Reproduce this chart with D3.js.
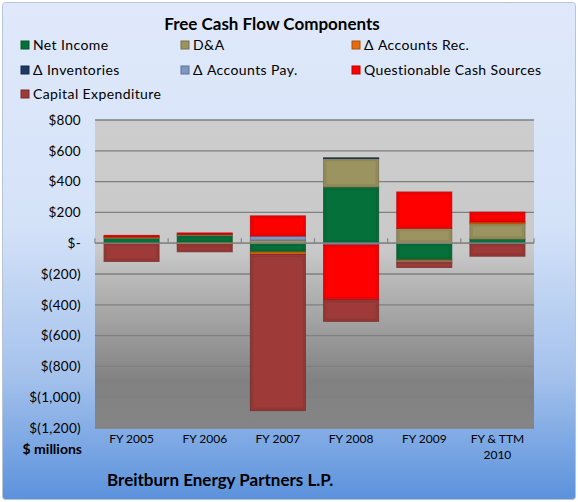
<!DOCTYPE html>
<html><head><meta charset="utf-8">
<script src="https://cdn.jsdelivr.net/npm/d3@7"></script>
<style>body{margin:0;background:#fff;}svg{display:block;font-family:Lato,"Open Sans",sans-serif;}</style>
</head><body><svg id="c" width="578" height="502"></svg>
<script>
const categories = ["FY 2005","FY 2006","FY 2007","FY 2008","FY 2009","FY & TTM 2010"];
const seriesNames = ["Net Income","D&A","\u0394 Accounts Rec.","\u0394 Inventories","\u0394 Accounts Pay.","Questionable Cash Sources","Capital Expenditure"];
const netIncome   = [32, 50, -58, 365, -110, 27];
const dna         = [6, 8, 20, 185, 97, 100];
const accountsRec = [4, -10, -15, 0, -10, 11];
const inventories = [0, 0, 0, 4, 0, 0];
const accountsPay = [0, 0, 27, -12, -7, -4];
const questionable= [8, 8, 130, -355, 235, 63];
const capex       = [-118, -45, -1013, -140, -30, -80];
const tickValues  = [800,600,400,200,0,-200,-400,-600,-800,-1000,-1200];
const colors = ["#06703a","#9b9360","#e46c0a","#1f3864","#7f97c2","#ff0000","#9e3b39"];

(function(){
const seriesVals = [netIncome,dna,accountsRec,inventories,accountsPay,questionable,capex];
const rows = categories.map((c,i)=>{const r={cat:c}; seriesNames.forEach((s,j)=>r[s]=seriesVals[j][i]); return r;});

const svg = d3.select("#c");
const defs = svg.append("defs");
const bg = defs.append("linearGradient").attr("id","bg").attr("x1",0).attr("y1",0).attr("x2",0).attr("y2",1);
[[0,"#e0e9fb"],[0.45,"#d4e2f8"],[0.75,"#a5c2ec"],[1,"#5b92dc"]].forEach(s=>bg.append("stop").attr("offset",s[0]).attr("stop-color",s[1]));
const pg = defs.append("linearGradient").attr("id","pg").attr("x1",0).attr("y1",0).attr("x2",0).attr("y2",1);
[[0,"#cdcdcd"],[0.42,"#c9c9c9"],[0.85,"#818181"],[1,"#858585"]].forEach(s=>pg.append("stop").attr("offset",s[0]).attr("stop-color",s[1]));

svg.append("rect").attr("x",2.5).attr("y",2.5).attr("width",573).attr("height",497).attr("rx",3)
  .attr("fill","url(#bg)").attr("stroke","#b8c4d4");

const pL=95,pR=534,pT=120,pB=428;
const x = d3.scaleBand().domain(categories).range([pL,pR]).paddingInner(0.25).paddingOuter(0.125);
const xb = d3.scaleBand().domain(categories).range([pL,pR]);
const y = d3.scaleLinear().domain([-1200,800]).range([pB,pT]);

svg.append("rect").attr("x",pL).attr("y",pT).attr("width",pR-pL).attr("height",pB-pT).attr("fill","url(#pg)");
svg.append("g").selectAll("line").data(tickValues).join("line")
  .attr("x1",pL).attr("x2",pR).attr("y1",d=>y(d)).attr("y2",d=>y(d))
  .attr("stroke","#7f7f7f").attr("stroke-width",1.3);

const fmt = v => v===0 ? "$-" : (v<0 ? "$(" + d3.format(",")(-v) + ")" : "$" + d3.format(",")(v));
const yAxis = d3.axisLeft(y).tickValues(tickValues).tickFormat(fmt).tickSize(0).tickPadding(14);
const ya = svg.append("g").attr("transform",`translate(${pL},0)`).call(yAxis);
ya.select(".domain").remove();
ya.selectAll("text").attr("font-size",13.5).attr("letter-spacing",0.3).attr("fill","#000").attr("font-family","Lato, sans-serif");

const stack = d3.stack().keys(seriesNames).offset(d3.stackOffsetDiverging);
const layers = stack(rows);
const gBars = svg.append("g");
layers.forEach((layer,li)=>{
  const c = d3.color(colors[li]);
  const g = gBars.append("g");
  layer.forEach(d=>{
    const y0=y(Math.max(d[0],d[1])), y1=y(Math.min(d[0],d[1]));
    const h=y1-y0; if(h<=0.01) return;
    const bx=x(d.data.cat), bw=x.bandwidth();
    g.append("rect").attr("x",bx).attr("y",y0).attr("width",bw).attr("height",h)
      .attr("fill",colors[li]).attr("stroke",c.darker(0.8)).attr("stroke-opacity",0.8).attr("stroke-width",1.2);
    if(h>5){
      g.append("rect").attr("x",bx+2).attr("y",y0+2).attr("width",bw-4).attr("height",h-4)
        .attr("fill","none").attr("stroke",c.darker(0.4)).attr("stroke-opacity",0.6).attr("stroke-width",1.5);
    }
  });
});

const y0p = y(0);
svg.append("line").attr("x1",pL).attr("x2",pR).attr("y1",y0p).attr("y2",y0p).attr("stroke","#868686").attr("stroke-width",1.3);
svg.append("g").selectAll("line").data(categories.concat(["end"])).join("line")
  .attr("x1",(d,i)=>pL+i*xb.bandwidth()).attr("x2",(d,i)=>pL+i*xb.bandwidth())
  .attr("y1",y0p-5).attr("y2",y0p).attr("stroke","#868686").attr("stroke-width",1.2);

const xl = svg.append("g");
categories.forEach(c=>{
  const cx = xb(c)+xb.bandwidth()/2;
  const t = xl.append("text").attr("x",cx).attr("y",443).attr("text-anchor","middle")
    .attr("font-size",12).attr("fill","#000");
  if(c==="FY & TTM 2010"){
    t.append("tspan").attr("x",cx).text("FY & TTM");
    t.append("tspan").attr("x",cx).attr("dy",16).text("2010");
  } else t.text(c);
});

svg.append("text").attr("x",82).attr("y",454).attr("text-anchor","end").attr("font-weight","bold").attr("font-size",14).text("$ millions");
svg.append("text").attr("x",107).attr("y",486).attr("font-weight","bold").attr("font-size",17).text("Breitburn Energy Partners L.P.");
svg.append("text").attr("x",272).attr("y",30).attr("text-anchor","middle").attr("font-weight","bold").attr("font-size",17).text("Free Cash Flow Components");

const legX=[21,181,352], legY=[45,70,94];
seriesNames.forEach((s,i)=>{
  const lx=legX[i%3], ly=legY[Math.floor(i/3)];
  const c=d3.color(colors[i]);
  svg.append("rect").attr("x",lx).attr("y",ly-4).attr("width",8).attr("height",8).attr("fill",colors[i]).attr("stroke",c.darker(0.8)).attr("stroke-width",1);
  svg.append("text").attr("x",lx+12).attr("y",ly+5).attr("font-size",14).attr("letter-spacing",0.4).attr("fill","#000").text(s);
});
})();
</script></body></html>
